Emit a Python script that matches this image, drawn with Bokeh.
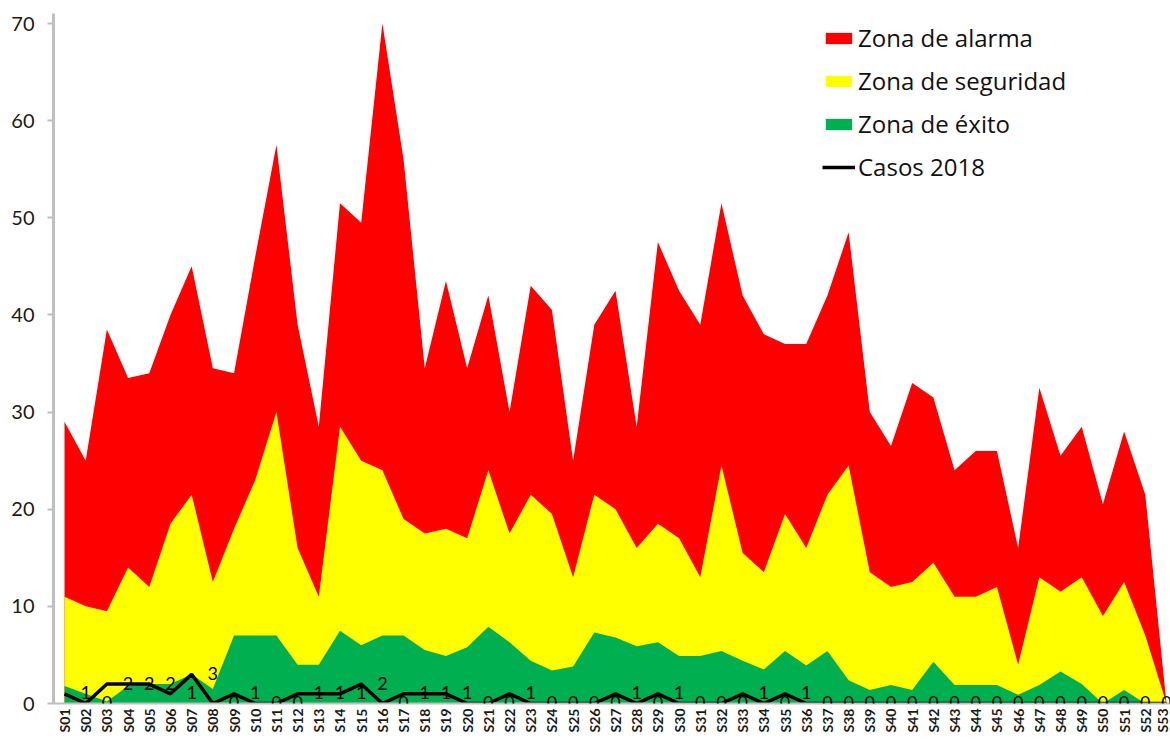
import math
from bokeh.plotting import figure
from bokeh.models import (ColumnDataSource, FixedTicker, Legend, LegendItem, Range1d,
                          LabelSet)
from bokeh.core.properties import value
from bokeh.embed import file_html
from bokeh.resources import INLINE

weeks = ["S%02d" % i for i in range(1, 54)]

alarma = [29, 25, 38.5, 33.5, 34, 40, 45, 34.5, 34, 46, 57.5, 39, 28.5, 51.5, 49.5, 70,
          56, 34.5, 43.5, 34.5, 42, 30, 43, 40.5, 25, 39, 42.5, 28.5, 47.5, 42.5, 39,
          51.5, 42, 38, 37, 37, 42, 48.5, 30, 26.5, 33, 31.5, 24, 26, 26, 16, 32.5,
          25.5, 28.5, 20.5, 28, 21.5, 0]
seguridad = [11, 10, 9.5, 14, 12, 18.5, 21.5, 12.5, 18, 23, 30, 16, 11, 28.5, 25, 24,
             19, 17.5, 18, 17, 24, 17.5, 21.5, 19.5, 13, 21.5, 20, 16, 18.5, 17, 13,
             24.5, 15.5, 13.5, 19.5, 16, 21.5, 24.5, 13.5, 12, 12.5, 14.5, 11, 11, 12, 4,
             13, 11.5, 13, 9, 12.5, 7, 0]
exito = [1.8, 1.0, 0.2, 1.8, 2, 2, 3, 1.5, 7, 7, 7, 4, 4, 7.5, 6, 7,
         7, 5.5, 4.9, 5.8, 7.9, 6.3, 4.4, 3.4, 3.8, 7.3, 6.8, 5.9, 6.3, 4.9, 4.9,
         5.4, 4.4, 3.5, 5.4, 3.9, 5.4, 2.4, 1.4, 1.9, 1.4, 4.3, 1.9, 1.9, 1.9, 0.9,
         1.9, 3.3, 2.0, 0, 1.4, 0, 0]
casos = [1, 0, 2, 2, 2, 1, 3, 0, 1, 0, 0, 1, 1, 1, 2, 0, 1, 1, 1, 0, 0, 1, 0, 0, 0,
         0, 1, 0, 1, 0, 0, 0, 1, 0, 1, 0, 0, 0, 0, 0, 0, 0, 0, 0, 0, 0, 0, 0, 0, 0,
         0, 0, 0]
y_ticks = [0, 10, 20, 30, 40, 50, 60, 70]

FONT = "Lato"
LFONT = "Open Sans"
idx = list(range(len(weeks)))
src = ColumnDataSource(dict(x=idx, alarma=alarma, seguridad=seguridad, exito=exito,
                            casos=casos))
# data labels of "Casos 2018" appear one week to the right in the original chart
lab_src = ColumnDataSource(dict(x=[i + 1 for i in idx[:-1]], y=casos[:-1],
                                t=[str(c) for c in casos[:-1]]))

p = figure(width=1170, height=740, output_backend="svg", toolbar_location=None,
           x_range=Range1d(-0.519, 52.19), y_range=Range1d(0, 71.03),
           min_border_left=53, min_border_right=0, min_border_top=13,
           min_border_bottom=37)
p.outline_line_color = None
p.grid.visible = False
p.background_fill_color = "white"

r_al = p.varea(x="x", y1=0, y2="alarma", source=src, fill_color="#FF0000")
r_se = p.varea(x="x", y1=0, y2="seguridad", source=src, fill_color="#FFFF00")
r_ex = p.varea(x="x", y1=0, y2="exito", source=src, fill_color="#00B050")
r_ca = p.line(x="x", y="casos", source=src, line_color="black", line_width=3.5)
labels = LabelSet(x="x", y="y", text="t", source=lab_src, text_align="center",
                  text_baseline="middle", text_font=value(FONT),
                  text_font_size=value("18px"), text_color=value("black"), y_offset=1)
p.add_layout(labels)

p.yaxis.ticker = FixedTicker(ticks=y_ticks)
p.yaxis.axis_line_color = "#BFBFBF"
p.yaxis.axis_line_width = 3
p.yaxis.major_tick_line_color = "#BFBFBF"
p.yaxis.major_tick_line_width = 2
p.yaxis.major_tick_out = 6
p.yaxis.major_tick_in = 0
p.yaxis.minor_tick_line_color = None
p.yaxis.major_label_text_font = FONT
p.yaxis.major_label_text_font_size = "20px"
p.yaxis.major_label_text_color = "#1a1a1a"
p.yaxis.major_label_standoff = 13

p.xaxis.ticker = FixedTicker(ticks=idx)
p.xaxis.major_label_overrides = {i: w for i, w in enumerate(weeks)}
p.xaxis.major_label_orientation = math.pi / 2
p.xaxis.axis_line_color = "#BFBFBF"
p.xaxis.axis_line_width = 2
p.xaxis.major_tick_line_color = None
p.xaxis.major_tick_out = 0
p.xaxis.minor_tick_line_color = None
p.xaxis.major_label_text_font = FONT
p.xaxis.major_label_text_font_size = "14px"
p.xaxis.major_label_text_font_style = "bold"
p.xaxis.major_label_text_color = "#1a1a1a"
p.xaxis.major_label_standoff = 5

legend = Legend(items=[
    LegendItem(label="Zona de alarma", renderers=[r_al]),
    LegendItem(label="Zona de seguridad", renderers=[r_se]),
    LegendItem(label="Zona de éxito", renderers=[r_ex]),
    LegendItem(label="Casos 2018", renderers=[r_ca]),
], location=(769, 520))
legend.glyph_width = 33
legend.glyph_height = 14
legend.label_height = 33
legend.spacing = 10
legend.padding = 0
legend.margin = 0
legend.label_standoff = 3
legend.label_text_font = LFONT
legend.label_text_font_size = "24px"
legend.label_text_color = "#111111"
legend.border_line_color = None
legend.background_fill_alpha = 0
p.add_layout(legend)

open("out.html", "w").write(file_html(p, INLINE))
